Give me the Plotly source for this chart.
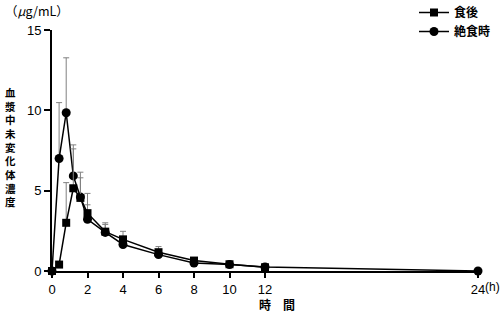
import plotly.graph_objects as go

# ---- data ----
time_fed = [0, 0.4, 0.8, 1.2, 1.6, 2, 3, 4, 6, 8, 10, 12]
conc_fed = [0, 0.4, 3.0, 5.15, 4.55, 3.6, 2.45, 1.97, 1.17, 0.65, 0.42, 0.23]
sd_fed = [0, 0, 2.5, 2.45, 1.6, 1.23, 0.55, 0.5, 0.35, 0.15, 0.08, 0.05]

time_fast = [0, 0.4, 0.8, 1.2, 1.6, 2, 3, 4, 6, 8, 10, 12, 24]
conc_fast = [0, 7.0, 9.85, 5.92, 4.6, 3.22, 2.4, 1.65, 1.02, 0.5, 0.4, 0.25, 0]
sd_fast = [0, 3.48, 3.42, 1.93, 1.2, 0.9, 0.5, 0.3, 0.2, 0.1, 0.05, 0.03, 0]

x_ticks = [0, 2, 4, 6, 8, 10, 12, 24]
y_ticks = [0, 5, 10, 15]
y_title = "血漿中未変化体濃度"

JP = "Noto Sans CJK JP"
NUM = "Liberation Sans"

L, R, T, B = 52, 24, 30, 41
PW, PH = 502 - L - R, 312 - T - B


def px_x(p):
    return (p - L) / PW


def px_y(p):
    return (312 - B - p) / PH


fig = go.Figure()

fig.add_trace(go.Scatter(
    x=time_fast, y=conc_fast, name="<b>絶食時</b>", mode="lines+markers",
    line=dict(color="black", width=1.5),
    marker=dict(symbol="circle", size=9, color="black"),
    error_y=dict(type="data", symmetric=False, array=sd_fast,
                 arrayminus=[0] * len(sd_fast), color="#808080",
                 thickness=1, width=3),
    cliponaxis=False, legendrank=2,
))
fig.add_trace(go.Scatter(
    x=time_fed, y=conc_fed, name="<b>食後</b>", mode="lines+markers",
    line=dict(color="black", width=1.5),
    marker=dict(symbol="square", size=8, color="black"),
    error_y=dict(type="data", symmetric=False, array=sd_fed,
                 arrayminus=[0] * len(sd_fed), color="#808080",
                 thickness=1, width=3),
    cliponaxis=False, legendrank=1,
))

fig.update_layout(
    width=502, height=312,
    margin=dict(l=L, r=R, t=T, b=B, autoexpand=False),
    paper_bgcolor="white", plot_bgcolor="white",
    showlegend=True,
    legend=dict(x=px_x(414), xanchor="left", y=px_y(-2), yanchor="top",
                font=dict(family=JP, size=12, color="black"),
                bgcolor="rgba(0,0,0,0)", tracegroupgap=0,
                itemwidth=30),
    xaxis=dict(range=[0, 24], tickvals=x_ticks,
               ticktext=[str(v) for v in x_ticks],
               showgrid=False, zeroline=False,
               showline=True, linecolor="black", linewidth=2,
               ticks="outside", ticklen=5, tickwidth=1.5, tickcolor="black",
               tickfont=dict(family=NUM, size=13, color="black")),
    yaxis=dict(range=[0, 15], tickvals=y_ticks,
               showgrid=False, zeroline=False,
               showline=True, linecolor="black", linewidth=2,
               ticks="outside", ticklen=6, tickwidth=1.5, tickcolor="black",
               tickfont=dict(family=NUM, size=13, color="black")),
)

# vertical stacked y-axis title (one character per line)
fig.add_annotation(text="<b>" + "<br>".join(y_title) + "</b>",
                   xref="paper", yref="paper",
                   x=px_x(10), y=px_y(146.5),
                   xanchor="center", yanchor="middle", showarrow=False,
                   font=dict(family=JP, size=10.5, color="black"))

fig.add_annotation(text="（<i>μ</i>g/mL）", xref="paper", yref="paper",
                   x=px_x(3), y=px_y(10), xanchor="left",
                   yanchor="middle", showarrow=False,
                   font=dict(family=JP, size=12.5, color="black"))
fig.add_annotation(text="<b>時　間</b>", xref="paper", yref="paper",
                   x=px_x(277), y=px_y(304),
                   xanchor="center", yanchor="middle", showarrow=False,
                   font=dict(family=JP, size=12, color="black"))
fig.add_annotation(text="(h)", xref="paper", yref="paper",
                   x=px_x(502), y=px_y(287),
                   xanchor="right", yanchor="middle", showarrow=False,
                   font=dict(family=NUM, size=12, color="black"))

fig.write_html("out.html")
